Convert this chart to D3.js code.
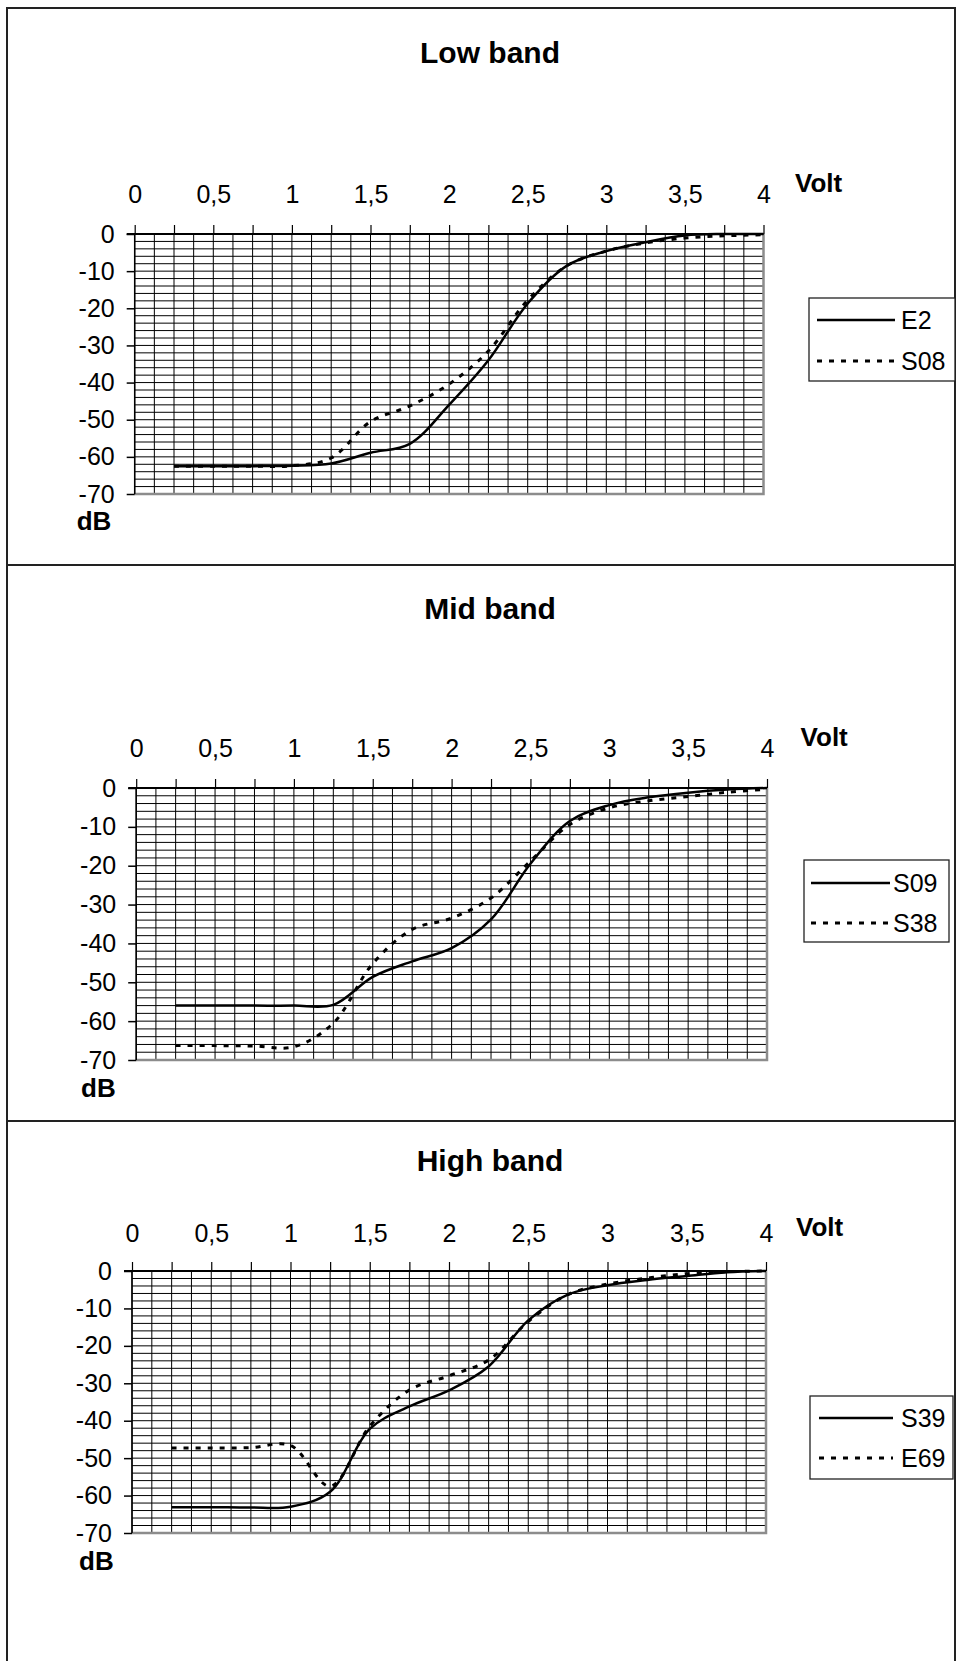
<!DOCTYPE html>
<html><head><meta charset="utf-8">
<script src="https://cdn.jsdelivr.net/npm/d3@7/dist/d3.min.js"></script>
<style>
body{margin:0;background:#fff}
svg{display:block}
text{font-family:"Liberation Sans",Arial,Helvetica,sans-serif;fill:#000}
</style>
</head><body>
<svg id="chart" width="962" height="1661"></svg>
<script>
// ---------- data ----------
const voltTicks = [0, 0.5, 1, 1.5, 2, 2.5, 3, 3.5, 4];
const voltTickLabels = ["0", "0,5", "1", "1,5", "2", "2,5", "3", "3,5", "4"];
const dbTicks = [0, -10, -20, -30, -40, -50, -60, -70];
const dbTickLabels = ["0", "-10", "-20", "-30", "-40", "-50", "-60", "-70"];
const volts = [0.25, 0.5, 0.75, 1.0, 1.25, 1.5, 1.75, 2.0, 2.25, 2.5, 2.75, 3.0, 3.25, 3.5, 3.75, 4.0];
const titles = ["Low band", "Mid band", "High band"];
const seriesNames = [["E2", "S08"], ["S09", "S38"], ["S39", "E69"]];
const lowE2   = [-62.5, -62.5, -62.5, -62.4, -61.8, -58.9, -56.5, -46.0, -34.0, -18.7, -8.5, -4.6, -2.2, -0.4, 0, 0];
const lowS08  = [-62.5, -62.5, -62.5, -62.4, -60.3, -50.5, -46.3, -40.4, -31.5, -17.8, -8.5, -4.6, -2.4, -1.1, -0.5, -0.2];
const midS09  = [-56.0, -56.0, -56.0, -56.0, -55.8, -48.6, -44.6, -41.2, -33.8, -19.5, -8.5, -4.4, -2.4, -1.2, -0.4, 0];
const midS38  = [-66.3, -66.3, -66.4, -66.6, -60.5, -45.2, -36.4, -33.5, -28.3, -18.8, -9.4, -5.1, -3.3, -2.2, -1.1, -0.3];
const highS39 = [-63.1, -63.1, -63.2, -63.0, -59.0, -42.2, -36.2, -31.9, -25.5, -13.2, -6.3, -3.8, -2.4, -1.35, -0.35, 0];
const highE69 = [-47.3, -47.3, -47.2, -46.6, -57.5, -41.5, -31.8, -28.0, -23.8, -13.5, -6.3, -3.5, -1.9, -0.7, -0.2, 0];
const bandSeries = [[lowE2, lowS08], [midS09, midS38], [highS39, highE69]];

// ---------- layout (positions / styles) ----------
const layout = [
  {top: 8, bottom: 565, left: 134.7, right: 763.5, ptop: 234, pbottom: 494, titleY: 63, labPad: 22,
   voltX: 795, voltY: 191.7, dbX: 76.7, dbY: 530,
   leg: {x: 809, y: 298, w: 146, h: 83, y1: 320, y2: 361, lx1: 817, lx2: 895, tx: 901}},
  {top: 565, bottom: 1121, left: 136.2, right: 767, ptop: 788, pbottom: 1060, titleY: 619, labPad: 22,
   voltX: 800.6, voltY: 746, dbX: 81, dbY: 1097,
   leg: {x: 804, y: 860, w: 145, h: 82, y1: 883, y2: 923, lx1: 811, lx2: 890, tx: 893}},
  {top: 1121, bottom: 1677, left: 132, right: 766, ptop: 1271, pbottom: 1533, titleY: 1171, labPad: 20,
   voltX: 796, voltY: 1236, dbX: 79, dbY: 1570,
   leg: {x: 810, y: 1396, w: 143, h: 83, y1: 1418, y2: 1458, lx1: 819, lx2: 893, tx: 901}}
];
const frameLeft = 7, frameRight = 955;
const dashPattern = "5,7";

const svg = d3.select("#chart");

layout.forEach((L, i) => {
  const g = svg.append("g");
  g.append("rect").attr("x", frameLeft).attr("y", L.top)
    .attr("width", frameRight - frameLeft).attr("height", L.bottom - L.top)
    .attr("fill", "none").attr("stroke", "#222").attr("stroke-width", 2);

  g.append("text").attr("x", 490).attr("y", L.titleY).attr("text-anchor", "middle")
    .attr("font-size", 30).attr("font-weight", "bold").text(titles[i]);

  const x = d3.scaleLinear().domain([0, 4]).range([L.left, L.right]);
  const y = d3.scaleLinear().domain([-70, 0]).range([L.pbottom, L.ptop]);

  const grid = g.append("g");
  grid.selectAll("line.h").data(d3.range(-70, 0.001, 2)).join("line")
    .attr("x1", L.left).attr("x2", L.right)
    .attr("y1", d => y(d)).attr("y2", d => y(d))
    .attr("stroke", "#000").attr("stroke-width", 1);
  grid.selectAll("line.v").data(d3.range(0, 4.0001, 0.125)).join("line")
    .attr("x1", d => x(d)).attr("x2", d => x(d))
    .attr("y1", L.ptop).attr("y2", L.pbottom)
    .attr("stroke", "#000").attr("stroke-width", 1);

  g.append("path")
    .attr("d", `M${L.right},${L.ptop}V${L.pbottom}H${L.left}`)
    .attr("fill", "none").attr("stroke", "#8c8c8c").attr("stroke-width", 2.5);

  const xAxis = d3.axisTop(x)
    .tickValues(d3.range(0, 4.0001, 0.25))
    .tickSize(9).tickSizeOuter(0).tickPadding(L.labPad)
    .tickFormat(d => {
      const k = voltTicks.findIndex(t => Math.abs(t - d) < 1e-9);
      return k >= 0 ? voltTickLabels[k] : "";
    });
  const xg = g.append("g").attr("transform", `translate(0,${L.ptop})`).call(xAxis);
  xg.select(".domain").remove();
  xg.selectAll(".tick line").attr("stroke", "#000").attr("stroke-width", 1.2);
  xg.selectAll(".tick text").attr("font-size", 25).attr("font-family", null).attr("fill", "#000");

  const yAxis = d3.axisLeft(y)
    .tickValues(dbTicks)
    .tickSize(8).tickSizeOuter(0).tickPadding(12)
    .tickFormat(d => dbTickLabels[dbTicks.indexOf(d)]);
  const yg = g.append("g").attr("transform", `translate(${L.left},0)`).call(yAxis);
  yg.select(".domain").remove();
  yg.selectAll(".tick line").attr("stroke", "#000").attr("stroke-width", 1.5);
  yg.selectAll(".tick text").attr("font-size", 25).attr("font-family", null).attr("fill", "#000");

  g.append("line").attr("x1", L.left).attr("x2", L.left).attr("y1", L.ptop).attr("y2", L.pbottom)
    .attr("stroke", "#000").attr("stroke-width", 1.5);
  g.append("line").attr("x1", L.left - 8).attr("x2", L.right).attr("y1", L.ptop).attr("y2", L.ptop)
    .attr("stroke", "#000").attr("stroke-width", 2.2);

  g.append("text").attr("x", L.voltX).attr("y", L.voltY).attr("font-size", 26)
    .attr("font-weight", "bold").text("Volt");
  g.append("text").attr("x", L.dbX).attr("y", L.dbY).attr("font-size", 26)
    .attr("font-weight", "bold").text("dB");

  const line = d3.line().x(d => x(d[0])).y(d => y(d[1]))
    .curve(d3.curveCatmullRom.alpha(0.5));
  bandSeries[i].forEach((vals, s) => {
    const pts = volts.map((v, k) => [v, vals[k]]);
    g.append("path").attr("d", line(pts)).attr("fill", "none")
      .attr("stroke", "#000")
      .attr("stroke-width", s === 0 ? 2.5 : 3)
      .attr("stroke-dasharray", s === 0 ? null : dashPattern)
      .attr("stroke-linejoin", "round");
  });

  const lg = L.leg;
  g.append("rect").attr("x", lg.x).attr("y", lg.y).attr("width", lg.w).attr("height", lg.h)
    .attr("fill", "#fff").attr("stroke", "#222").attr("stroke-width", 1.3);
  [lg.y1, lg.y2].forEach((ly, s) => {
    g.append("line").attr("x1", lg.lx1).attr("x2", lg.lx2).attr("y1", ly).attr("y2", ly)
      .attr("stroke", "#000").attr("stroke-width", s === 0 ? 2.5 : 3)
      .attr("stroke-dasharray", s === 0 ? null : dashPattern);
    g.append("text").attr("x", lg.tx).attr("y", ly + 9).attr("font-size", 25)
      .text(seriesNames[i][s]);
  });
});
</script>
</body></html>
